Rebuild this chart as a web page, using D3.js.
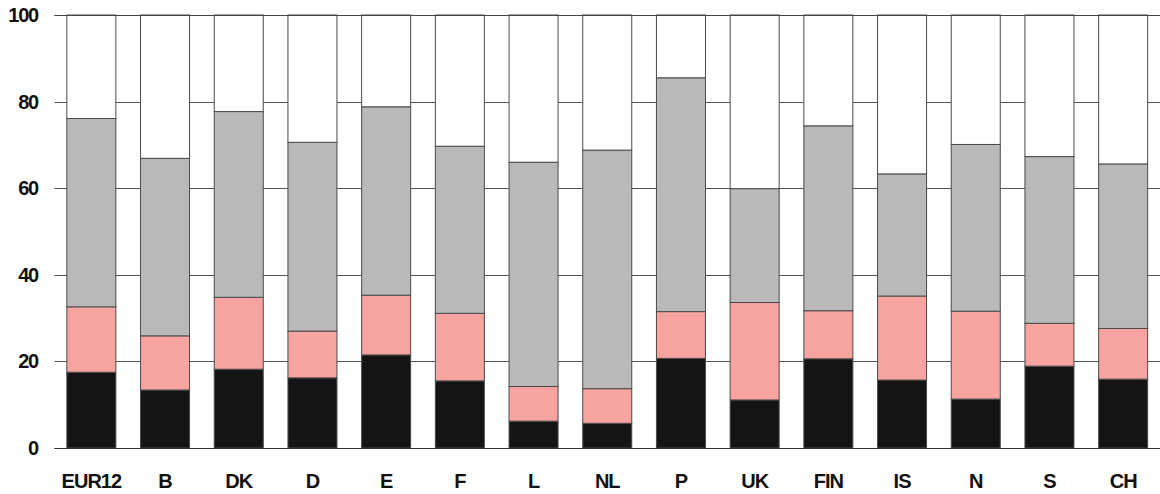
<!DOCTYPE html>
<html>
<head>
<meta charset="utf-8">
<script src="https://cdn.jsdelivr.net/npm/d3@7"></script>
<style>
  html, body { margin: 0; padding: 0; background: #ffffff; }
  svg { display: block; }
  text { font-family: "Liberation Sans", Arial, Helvetica, sans-serif; font-weight: bold; fill: #111; }
</style>
</head>
<body>
<svg id="chart" width="1160" height="494"></svg>
<script>
const categories = ["EUR12","B","DK","D","E","F","L","NL","P","UK","FIN","IS","N","S","CH"];
// cumulative tops
const blackTop = [17.5, 13.4, 18.2, 16.2, 21.5, 15.5, 6.2, 5.7, 20.7, 11.1, 20.6, 15.7, 11.3, 18.9, 15.9];
const pinkTop  = [32.6, 25.9, 34.8, 27.0, 35.3, 31.1, 14.2, 13.7, 31.5, 33.6, 31.7, 35.1, 31.6, 28.8, 27.6];
const grayTop  = [76.1, 66.9, 77.7, 70.6, 78.8, 69.7, 66.0, 68.8, 85.5, 59.9, 74.4, 63.3, 70.1, 67.3, 65.6];
const yTicks = [0, 20, 40, 60, 80, 100];
const seriesKeys = ["black", "pink", "gray", "white"];
const seriesColors = ["#141414", "#f7a3a0", "#b9b9b9", "#ffffff"];

const rows = categories.map((c, i) => ({
  cat: c,
  black: blackTop[i],
  pink: +(pinkTop[i] - blackTop[i]).toFixed(2),
  gray: +(grayTop[i] - pinkTop[i]).toFixed(2),
  white: +(100 - grayTop[i]).toFixed(2)
}));

const svg = d3.select("#chart");
const margin = {left: 54.5, right: 0, top: 15, bottom: 46};
const W = 1160, H = 494;

const x = d3.scaleBand().domain(categories)
  .range([margin.left, W - margin.right])
  .paddingInner(0.335).paddingOuter(0.1675);
const y = d3.scaleLinear().domain([0, 100]).range([H - margin.bottom, margin.top]);

// gridlines
svg.append("g").selectAll("line").data(yTicks).join("line")
  .attr("x1", margin.left).attr("x2", W)
  .attr("y1", d => Math.round(y(d)) + 0.5).attr("y2", d => Math.round(y(d)) + 0.5)
  .attr("stroke", "#555").attr("stroke-width", 1);

const stack = d3.stack().keys(seriesKeys)(rows);
const colorScale = d3.scaleOrdinal().domain(seriesKeys).range(seriesColors);

svg.append("g").selectAll("g").data(stack).join("g")
  .attr("fill", d => colorScale(d.key))
  .selectAll("rect").data(d => d).join("rect")
  .attr("x", d => x(d.data.cat))
  .attr("width", x.bandwidth())
  .attr("y", d => y(d[1]))
  .attr("height", d => y(d[0]) - y(d[1]))
  .attr("stroke", "#4a4a4a").attr("stroke-width", 1);

// top and baseline lines
svg.append("line").attr("x1", margin.left).attr("x2", W)
  .attr("y1", Math.round(y(100)) + 0.5).attr("y2", Math.round(y(100)) + 0.5)
  .attr("stroke", "#444");
svg.append("line").attr("x1", margin.left).attr("x2", W)
  .attr("y1", Math.round(y(0)) + 0.5).attr("y2", Math.round(y(0)) + 0.5)
  .attr("stroke", "#333");

// y axis labels
const yAxis = d3.axisLeft(y).tickValues(yTicks).tickSize(0).tickPadding(0);
const gy = svg.append("g").attr("transform", "translate(38,0)").call(yAxis);
gy.select(".domain").remove();
gy.selectAll("text").attr("font-size", 20).attr("letter-spacing", "-1.2")
  .attr("font-family", "'Liberation Sans', Arial, sans-serif").attr("font-weight", "bold").attr("fill", "#111");

// x axis labels
const xAxis = d3.axisBottom(x).tickSize(0).tickPadding(0);
const gx = svg.append("g").attr("transform", "translate(0," + (H - margin.bottom) + ")").call(xAxis);
gx.select(".domain").remove();
gx.selectAll("text").attr("font-size", 20).attr("letter-spacing", "-1")
  .attr("dy", null).attr("y", 40)
  .attr("font-family", "'Liberation Sans', Arial, sans-serif").attr("font-weight", "bold").attr("fill", "#111");
</script>
</body>
</html>
